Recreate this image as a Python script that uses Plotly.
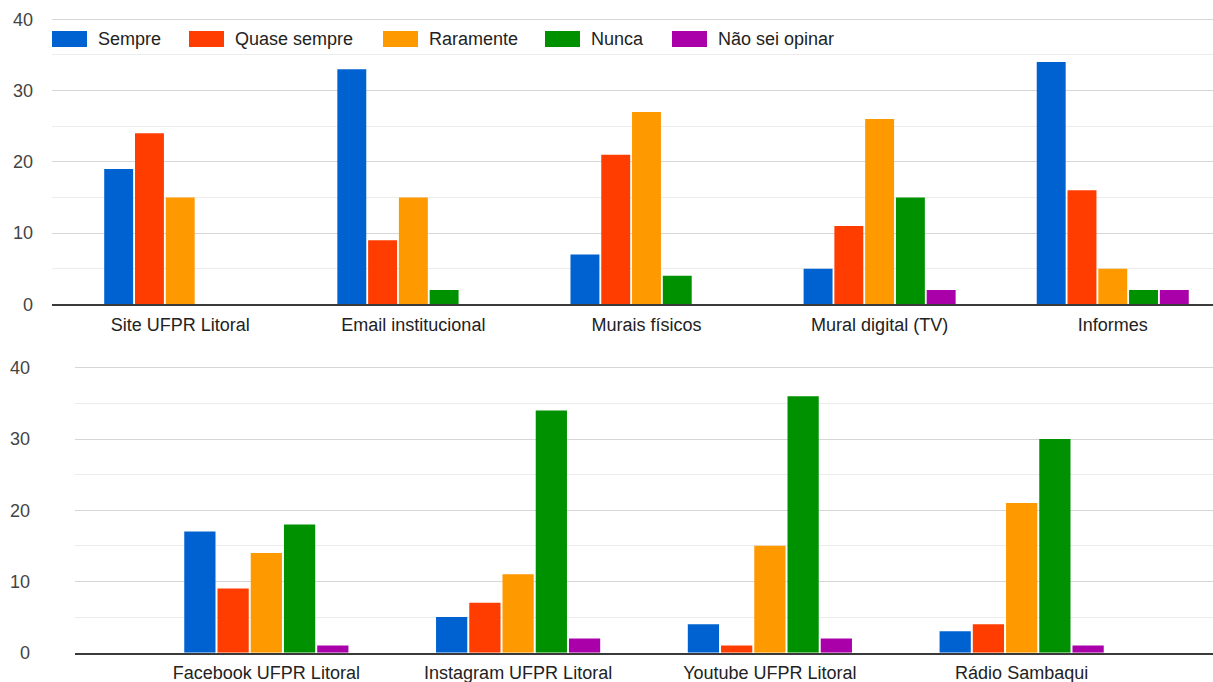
import plotly.graph_objects as go
from plotly.subplots import make_subplots

series = ["Sempre", "Quase sempre", "Raramente", "Nunca", "Não sei opinar"]
colors = ["#0062D1", "#FF3D00", "#FF9900", "#009100", "#AA00AA"]

cats_top = ["Site UFPR Litoral", "Email institucional", "Murais físicos", "Mural digital (TV)", "Informes"]
sempre_top = [19, 33, 7, 5, 34]
quase_top = [24, 9, 21, 11, 16]
raramente_top = [15, 15, 27, 26, 5]
nunca_top = [0, 2, 4, 15, 2]
naosei_top = [0, 0, 0, 2, 2]

cats_bot = ["Facebook UFPR Litoral", "Instagram UFPR Litoral", "Youtube UFPR Litoral", "Rádio Sambaqui"]
sempre_bot = [17, 5, 4, 3]
quase_bot = [9, 7, 1, 4]
raramente_bot = [14, 11, 15, 21]
nunca_bot = [18, 34, 36, 30]
naosei_bot = [1, 2, 2, 1]

y_ticks = [0, 10, 20, 30, 40]

top_vals = [sempre_top, quase_top, raramente_top, nunca_top, naosei_top]
bot_vals = [sempre_bot, quase_bot, raramente_bot, nunca_bot, naosei_bot]

W, H = 1213, 682
FONT = "Liberation Sans, Arial, sans-serif"

fig = make_subplots(rows=2, cols=1)

for name, col, vt, vb in zip(series, colors, top_vals, bot_vals):
    fig.add_trace(go.Bar(x=cats_top, y=vt, name=name, marker=dict(color=col, line=dict(width=0)),
                         showlegend=False), row=1, col=1)
    fig.add_trace(go.Bar(x=cats_bot, y=vb, name=name, marker=dict(color=col, line=dict(width=0)),
                         showlegend=False), row=2, col=1)

yax_common = dict(range=[0, 40.15], tickvals=y_ticks, ticks="", showgrid=True, automargin=False,
                  gridcolor="#d6d6d6", gridwidth=1, zeroline=False,
                  minor=dict(dtick=5, showgrid=True, gridcolor="#ececec", gridwidth=1),
                  tickfont=dict(family=FONT, size=18, color="#444444"), fixedrange=True)
xax_common = dict(type="category", showline=True, linecolor="#3a3a3a", linewidth=2, automargin=False,
                  ticks="", showgrid=False, ticklabelstandoff=3,
                  tickfont=dict(family=FONT, size=18, color="#222222"))

fig.update_layout(
    width=W, height=H,
    margin=dict(l=0, r=0, t=0, b=0),
    paper_bgcolor="white", plot_bgcolor="white",
    barmode="group", bargap=0.34, bargroupgap=0.06,
    font=dict(family=FONT),
    xaxis=dict(domain=[52 / W, 1], range=[-0.55, 4.43], **xax_common),
    yaxis=dict(domain=[1 - 304.3 / H, 1 - 18.3 / H], ticklabelstandoff=18, **yax_common),
    xaxis2=dict(domain=[75 / W, 1], range=[-0.76, 3.76], **xax_common),
    yaxis2=dict(domain=[1 - 652.7 / H, 1 - 366.7 / H], ticklabelstandoff=44, **yax_common),
)

# Custom legend with wide swatches (Google-Charts style)
legend_swatch_x = [52, 189, 383, 545, 672]
swatch_w, swatch_h = 35, 16
legend_y_center = 39
for name, col, sx in zip(series, colors, legend_swatch_x):
    fig.add_shape(type="rect", xref="paper", yref="paper",
                  x0=sx / W, x1=(sx + swatch_w) / W,
                  y0=1 - (legend_y_center + swatch_h / 2) / H, y1=1 - (legend_y_center - swatch_h / 2) / H,
                  fillcolor=col, line=dict(width=0), layer="above")
    fig.add_annotation(xref="paper", yref="paper", x=(sx + swatch_w + 9) / W, y=1 - legend_y_center / H,
                       text=name, showarrow=False, xanchor="left", yanchor="middle",
                       font=dict(family=FONT, size=18, color="#222222"))

fig.write_html("out.html")
